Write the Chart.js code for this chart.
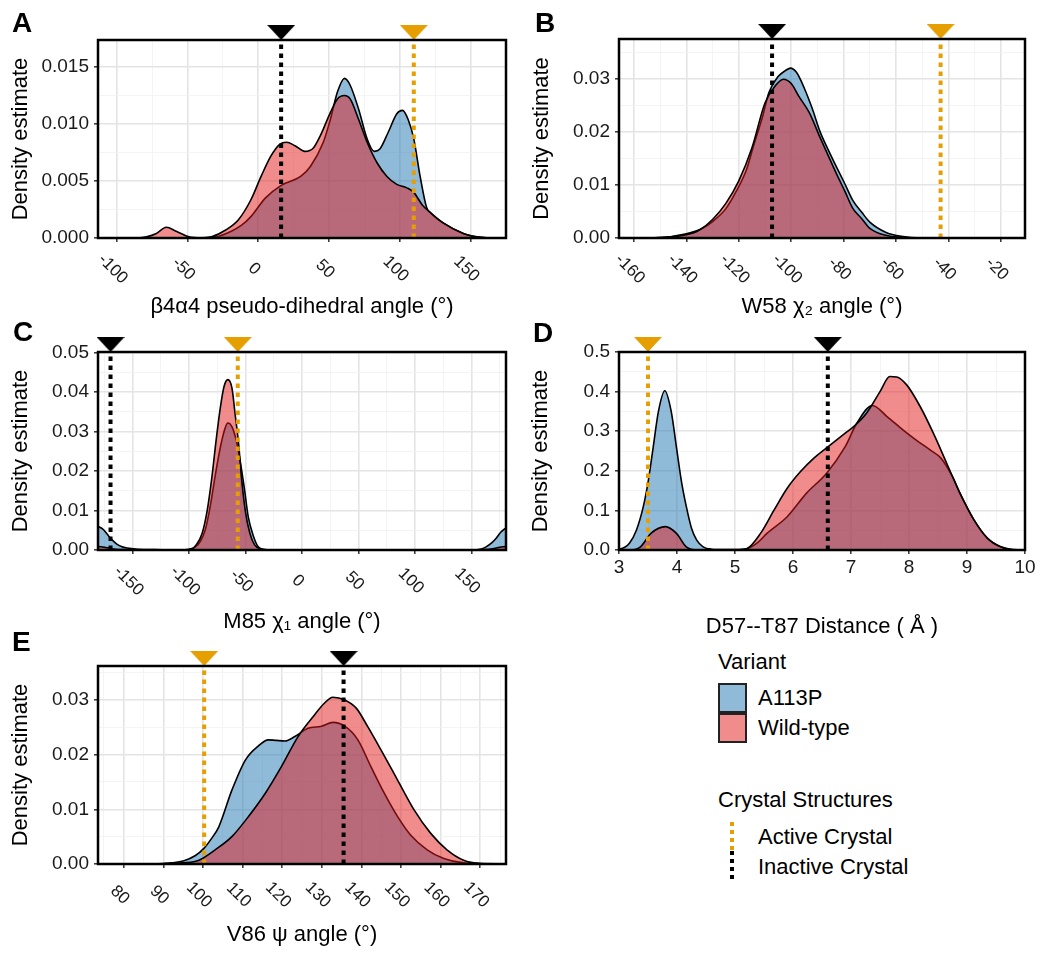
<!DOCTYPE html>
<html><head><meta charset="utf-8">
<script src="https://cdn.jsdelivr.net/npm/chart.js"></script>
<style>
body{margin:0;background:#fff;width:1050px;height:961px;position:relative;overflow:hidden;font-family:"Liberation Sans",Arial,sans-serif;color:#000;}
canvas{position:absolute;}
.lt{position:absolute;font-weight:bold;font-size:28px;line-height:28px;}
.t{position:absolute;font-size:22px;line-height:22px;white-space:nowrap;}
.key{position:absolute;width:29px;height:30px;box-sizing:border-box;border:2px solid #222;}
.dot{position:absolute;width:4px;height:29px;}
</style></head><body>
<canvas id="cA" width="520" height="330" style="left:0;top:0"></canvas>
<canvas id="cB" width="530" height="330" style="left:520px;top:0"></canvas>
<canvas id="cC" width="520" height="330" style="left:0;top:318px"></canvas>
<canvas id="cD" width="530" height="330" style="left:520px;top:318px"></canvas>
<canvas id="cE" width="520" height="333" style="left:0;top:628px"></canvas>

<div class="lt" style="left:12px;top:9px">A</div>
<div class="lt" style="left:535px;top:9px">B</div>
<div class="lt" style="left:13px;top:318px">C</div>
<div class="lt" style="left:533px;top:319px">D</div>
<div class="lt" style="left:12px;top:628px">E</div>

<div class="t" style="left:718px;top:651px">Variant</div>
<div class="key" style="left:718px;top:683px;background:rgba(31,120,180,0.5)"></div>
<div class="key" style="left:718px;top:713px;background:rgba(228,26,28,0.5)"></div>
<div class="t" style="left:758px;top:687px">A113P</div>
<div class="t" style="left:758px;top:717px">Wild-type</div>
<div class="t" style="left:718px;top:789px">Crystal Structures</div>
<div class="dot" style="left:730px;top:822px;background:repeating-linear-gradient(to bottom,#E69F00 0 4px,transparent 4px 8px)"></div>
<div class="dot" style="left:730px;top:851px;background:repeating-linear-gradient(to bottom,#000 0 4px,transparent 4px 8px)"></div>
<div class="t" style="left:758px;top:826px">Active Crystal</div>
<div class="t" style="left:758px;top:856px">Inactive Crystal</div>

<script>
// ---------------- DATA ----------------
// Panel A: β4α4 pseudo-dihedral angle
const aBlueX = [-45,-30,-19,-12,-5,5,16,30,37,46,51,56,61,65,71,77,82,86,92,98,102,106,110,114.5,119,122,131,145,155,165];
const aBlueY = [0,0.0001,0.0006,0.0011,0.0019,0.0035,0.0046,0.0054,0.0063,0.0084,0.0104,0.0128,0.0140,0.0134,0.0113,0.0087,0.0076,0.0078,0.0093,0.0109,0.0112,0.0104,0.0087,0.0054,0.0027,0.0022,0.0013,0.0004,0.0001,0];
const aRedX = [-100,-85,-79,-72,-65,-58,-49,-40,-33,-23,-14,-5,2,9,15,20,26,33,39,44,51,56,61,65,71,77,84,91,98,105,110,116,122,131,145,154,165];
const aRedY = [0,0,0.0001,0.0004,0.00094,0.0006,0.0001,0,0.0001,0.0007,0.0016,0.0034,0.0054,0.0072,0.0082,0.0084,0.0081,0.0076,0.0079,0.009,0.011,0.0122,0.0125,0.0122,0.0104,0.0084,0.0066,0.0054,0.0047,0.0044,0.004,0.0029,0.0022,0.0013,0.0004,0.0001,0];
const aActive = 110, aInactive = 16.2;
const aXTicks = [-100,-50,0,50,100,150];
const aYTicks = [0,0.005,0.010,0.015];

// Panel B: W58 χ2 angle
const bBlueX = [-165,-150,-140,-134,-130,-125,-121,-117,-114.5,-111,-108.5,-105,-102,-100.3,-98,-95,-92,-89,-86,-82.8,-79.5,-76.5,-73,-70,-64,-58,-50,-40];
const bBlueY = [0,0.0001,0.0008,0.0018,0.0031,0.0055,0.0088,0.013,0.0172,0.0228,0.0275,0.0305,0.0317,0.0321,0.0313,0.0283,0.0245,0.0201,0.0168,0.0135,0.0102,0.0071,0.0048,0.003,0.0011,0.0003,0,0];
const bRedX = [-165,-150,-140,-135,-130,-125,-120,-115,-110,-106,-103,-100,-97,-93,-89,-86,-82.8,-79.5,-76.5,-73,-70,-64,-58,-50];
const bRedY = [0,0.0001,0.0006,0.0015,0.0035,0.0065,0.0108,0.017,0.0255,0.0288,0.0300,0.0292,0.0267,0.0236,0.019,0.0157,0.0122,0.0088,0.0056,0.0036,0.0018,0.0005,0.0001,0];
const bActive = -43, bInactive = -107.3;
const bXTicks = [-160,-140,-120,-100,-80,-60,-40,-20];
const bYTicks = [0,0.01,0.02,0.03];

// Panel C: M85 χ1 angle
const cBlueX = [-180,-176,-172,-168,-164,-160,-155,-145,-130,-110,-100,-94.4,-90,-85.6,-81,-76.8,-72,-68,-65.7,-62,-58,-54.9,-51,-47.6,-43,-38.8,-34,-28,150,158,163,168,172,176,180];
const cBlueY = [0.0059,0.0052,0.0038,0.0025,0.0015,0.0009,0.0005,0.0002,0.0001,0,0.0002,0.0008,0.0022,0.0052,0.0115,0.019,0.0265,0.031,0.0322,0.0312,0.0275,0.0228,0.0155,0.0084,0.0035,0.0008,0.0002,0,0,0.0002,0.0008,0.0018,0.003,0.0045,0.0055];
const cRedX = [-180,-175,-170,-165,-160,-140,-110,-99,-94,-88.5,-84,-79.8,-76,-72.4,-69,-65.7,-62,-59.3,-56,-53.4,-50,-46.1,-42,-36,-30,150,160,170,175,180];
const cRedY = [0.0009,0.0007,0.0004,0.0002,0.0001,0,0,0.0001,0.0012,0.0042,0.010,0.0185,0.028,0.036,0.0415,0.0432,0.041,0.0346,0.0265,0.0177,0.0095,0.0042,0.0013,0.0002,0,0,0.0001,0.0004,0.0007,0.0009];
const cActive = -56.9, cInactive = -169.6;
const cXTicks = [-150,-100,-50,0,50,100,150];
const cYTicks = [0,0.01,0.02,0.03,0.04,0.05];

// Panel D: D57--T87 distance
const dBlueX = [3.0,3.1,3.18,3.3,3.42,3.5,3.59,3.68,3.79,3.9,3.99,4.08,4.16,4.25,4.34,4.45,4.6,4.8,5.0,5.2,5.4,5.55,5.9,6.23,6.58,6.9,7.1,7.37,7.62,7.9,8.13,8.37,8.55,8.75,8.88,9.12,9.35,9.58,9.81,10];
const dBlueY = [0.002,0.007,0.017,0.05,0.11,0.17,0.26,0.35,0.402,0.35,0.26,0.17,0.11,0.055,0.025,0.008,0.002,0.001,0.001,0.003,0.02,0.042,0.084,0.143,0.194,0.261,0.32,0.365,0.337,0.303,0.277,0.252,0.232,0.185,0.143,0.076,0.03,0.008,0.001,0];
const dRedX = [3.0,3.2,3.37,3.55,3.8,3.99,4.16,4.35,4.6,5.0,5.21,5.44,5.67,5.9,6.13,6.36,6.65,6.9,7.05,7.27,7.5,7.67,7.79,7.96,8.19,8.42,8.65,8.88,9.12,9.35,9.58,9.81,10];
const dRedY = [0,0,0.008,0.042,0.059,0.042,0.008,0,0,0,0.004,0.042,0.10,0.156,0.198,0.232,0.266,0.295,0.312,0.346,0.40,0.438,0.437,0.417,0.363,0.295,0.219,0.143,0.076,0.03,0.008,0,0];
const dActive = 3.5, dInactive = 6.6;
const dXTicks = [3,4,5,6,7,8,9,10];
const dYTicks = [0,0.1,0.2,0.3,0.4,0.5];

// Panel E: V86 ψ angle
const eBlueX = [75,85,90,92,95.2,98,100.3,102,104,107.3,110.7,114,116.5,118.5,120.7,123.2,126.5,129.9,132.8,135.8,139.1,142.4,145.8,149.1,152.4,156.6,160.8,165.8,170,176];
const eBlueY = [0,0,0.0001,0.0002,0.0006,0.0015,0.0029,0.0045,0.0068,0.0135,0.019,0.0216,0.0227,0.0226,0.0225,0.0233,0.0248,0.0252,0.0259,0.0252,0.0227,0.0178,0.0129,0.0087,0.0053,0.0026,0.001,0.0002,0.0001,0];
const eRedX = [75,90,95,99,103.1,107.3,111.5,115.7,119.8,124,128.2,130.5,132.8,135.8,138.7,141.6,144.9,149.1,153.3,157.5,161.6,165.8,170,176];
const eRedY = [0,0,0.0002,0.0007,0.0026,0.005,0.0087,0.0129,0.0178,0.0233,0.0273,0.0293,0.0305,0.030,0.0285,0.0251,0.0209,0.0154,0.0099,0.0056,0.0026,0.0007,0.0001,0];
const eActive = 100.3, eInactive = 135.5;
const eXTicks = [80,90,100,110,120,130,140,150,160,170];
const eYTicks = [0,0.01,0.02,0.03];

const seriesNames = ['A113P','Wild-type'];
const crystalNames = ['Active Crystal','Inactive Crystal'];

// ---------------- STYLE / HELPERS ----------------
const BLUE = 'rgba(31,120,180,0.5)', RED = 'rgba(228,26,28,0.5)', ORANGE = '#E69F00';
Chart.defaults.font.family = '"Liberation Sans", Arial, sans-serif';
Chart.defaults.color = '#1a1a1a';

function triangle(color){
  const c = document.createElement('canvas'); c.width = 28; c.height = 30;
  const g = c.getContext('2d'); g.fillStyle = color;
  g.beginPath(); g.moveTo(0,0); g.lineTo(28,0); g.lineTo(14,15); g.closePath(); g.fill();
  return c;
}
const TRI_O = triangle(ORANGE), TRI_K = triangle('#000');

function withMinor(major, min, max){
  const h = (major[1]-major[0])/2, out = [];
  const k0 = Math.ceil((min-major[0])/h - 1e-9), k1 = Math.floor((max-major[0])/h + 1e-9);
  for (let k=k0;k<=k1;k++){
    const v = +(major[0]+k*h).toFixed(10);
    out.push({value:v, mj: major.some(m=>Math.abs(m-v)<1e-9)});
  }
  return out;
}

const frame = {id:'frame', afterDatasetsDraw(chart){
  const {ctx, chartArea:a} = chart; ctx.save(); ctx.strokeStyle='#000'; ctx.lineWidth=2.5;
  ctx.strokeRect(a.left,a.top,a.right-a.left,a.bottom-a.top); ctx.restore();
}};
const rotLabels = {id:'rotLabels', afterDraw(chart, args, o){
  if (!o.on) return;
  const s = chart.scales.x, ctx = chart.ctx;
  ctx.save(); ctx.font = '17px "Liberation Sans", Arial, sans-serif'; ctx.fillStyle = '#1a1a1a';
  ctx.textAlign = 'center'; ctx.textBaseline = 'middle';
  s.ticks.forEach(t => {
    if (!t.mj) return;
    const px = s.getPixelForValue(t.value);
    ctx.save(); ctx.translate(px-4, chart.chartArea.bottom+31); ctx.rotate(Math.PI/4);
    ctx.fillText(String(t.value), 0, 0); ctx.restore();
  });
  ctx.restore();
}};

function dens(label, xs, ys, color, order){
  return {label, data: xs.map((x,i)=>({x, y: ys[i]})), borderColor:'#000', borderWidth:1.6,
    backgroundColor: color, fill:'origin', pointRadius:0, cubicInterpolationMode:'monotone', order};
}
function crystal(label, x, ymax, color, img, order){
  return {label, data:[{x, y:0},{x, y:ymax}], borderColor:color, borderWidth:4, borderDash:[4.5,4.5],
    borderCapStyle:'butt', fill:false, pointRadius: c => c.dataIndex===1 ? 10 : 0, pointStyle: img,
    clip:false, order};
}

function panel(p){
  const cv = document.getElementById(p.id);
  const L = p.canvas, P = p.plot;
  const pt = P.t - L.t, pr = L.l + L.w - P.r, yW = P.l - L.l, xH = L.t + L.h - P.b;
  const yTitlePad = p.yTitleX - L.l - 13.2, xTitlePad = L.t + L.h - p.xTitleY - 13.2;
  const gridColor = c => (c.tick && c.tick.mj) ? '#E4E4E4' : '#F1F1F1';
  const gridWidth = c => (c.tick && c.tick.mj) ? 1.6 : 0.8;
  const tickColor = c => (c.tick && c.tick.mj) ? '#333' : 'rgba(0,0,0,0)';
  new Chart(cv, {
    type:'line',
    data:{datasets:[
      dens(seriesNames[0], p.blueX, p.blueY, BLUE, 4),
      dens(seriesNames[1], p.redX, p.redY, RED, 3),
      crystal(crystalNames[0], p.active, p.ymax, ORANGE, TRI_O, 1),
      crystal(crystalNames[1], p.inactive, p.ymax, '#000', TRI_K, 2)
    ]},
    options:{
      responsive:false, animation:false, devicePixelRatio:1, events:[],
      layout:{padding:{top:pt, right:pr, left:0, bottom:0}},
      plugins:{legend:{display:false}, tooltip:{enabled:false}, rotLabels:{on: p.rot}},
      scales:{
        x:{type:'linear', min:p.xmin, max:p.xmax,
          afterBuildTicks: s => { s.ticks = withMinor(p.xTicks, p.xmin, p.xmax); },
          afterFit: s => { s.height = xH; },
          grid:{color:gridColor, lineWidth:gridWidth, tickLength:4, tickColor, tickWidth:1.5},
          border:{display:false},
          ticks:{display:!p.rot, autoSkip:false, maxRotation:0, minRotation:0, padding:2,
            font:{size:19}, color:'#1a1a1a', callback:(v,i,ts)=> ts[i] && ts[i].mj ? String(v) : ''},
          title:{display:true, text:p.xTitle, font:{size:22}, color:'#000', padding:{top:0,bottom:xTitlePad}}
        },
        y:{type:'linear', min:0, max:p.ymax,
          afterBuildTicks: s => { s.ticks = withMinor(p.yTicks, 0, p.ymax); },
          afterFit: s => { s.width = yW; },
          grid:{color:gridColor, lineWidth:gridWidth, tickLength:4, tickColor, tickWidth:1.5},
          border:{display:false},
          ticks:{autoSkip:false, padding:5, font:{size:19}, color:'#1a1a1a',
            callback:(v,i,ts)=> ts[i] && ts[i].mj ? Number(v).toFixed(p.yDec) : ''},
          title:{display:true, text:'Density estimate', font:{size:22}, color:'#000', padding:{top:yTitlePad,bottom:0}}
        }
      }
    },
    plugins:[frame, rotLabels]
  });
}

panel({id:'cA', canvas:{l:0,t:0,w:520,h:330}, plot:{l:98,t:40,r:510,b:238}, yTitleX:21, xTitleY:307,
  blueX:aBlueX, blueY:aBlueY, redX:aRedX, redY:aRedY, active:aActive, inactive:aInactive,
  xmin:-113.3, xmax:175.2, ymax:0.01737, xTicks:aXTicks, yTicks:aYTicks, yDec:3, rot:true,
  xTitle:'β4α4 pseudo-dihedral angle (°)'});
panel({id:'cB', canvas:{l:520,t:0,w:530,h:330}, plot:{l:619,t:39,r:1025,b:238}, yTitleX:542, xTitleY:307,
  blueX:bBlueX, blueY:bBlueY, redX:bRedX, redY:bRedY, active:bActive, inactive:bInactive,
  xmin:-165.7, xmax:-10.8, ymax:0.0376, xTicks:bXTicks, yTicks:bYTicks, yDec:2, rot:true,
  xTitle:'W58 χ₂ angle (°)'});
panel({id:'cC', canvas:{l:0,t:318,w:520,h:330}, plot:{l:98,t:352,r:510,b:550}, yTitleX:21, xTitleY:622,
  blueX:cBlueX, blueY:cBlueY, redX:cRedX, redY:cRedY, active:cActive, inactive:cInactive,
  xmin:-180.7, xmax:180.7, ymax:0.0502, xTicks:cXTicks, yTicks:cYTicks, yDec:2, rot:true,
  xTitle:'M85 χ₁ angle (°)'});
panel({id:'cD', canvas:{l:520,t:318,w:530,h:330}, plot:{l:619,t:352,r:1025,b:550}, yTitleX:541, xTitleY:627,
  blueX:dBlueX, blueY:dBlueY, redX:dRedX, redY:dRedY, active:dActive, inactive:dInactive,
  xmin:3, xmax:10, ymax:0.5, xTicks:dXTicks, yTicks:dYTicks, yDec:1, rot:false,
  xTitle:'D57--T87 Distance ( Å )'});
panel({id:'cE', canvas:{l:0,t:628,w:520,h:333}, plot:{l:98,t:666,r:509,b:864}, yTitleX:21, xTitleY:935,
  blueX:eBlueX, blueY:eBlueY, redX:eRedX, redY:eRedY, active:eActive, inactive:eInactive,
  xmin:73.5, xmax:176.5, ymax:0.0362, xTicks:eXTicks, yTicks:eYTicks, yDec:2, rot:true,
  xTitle:'V86 ψ angle (°)'});
</script>
</body></html>
